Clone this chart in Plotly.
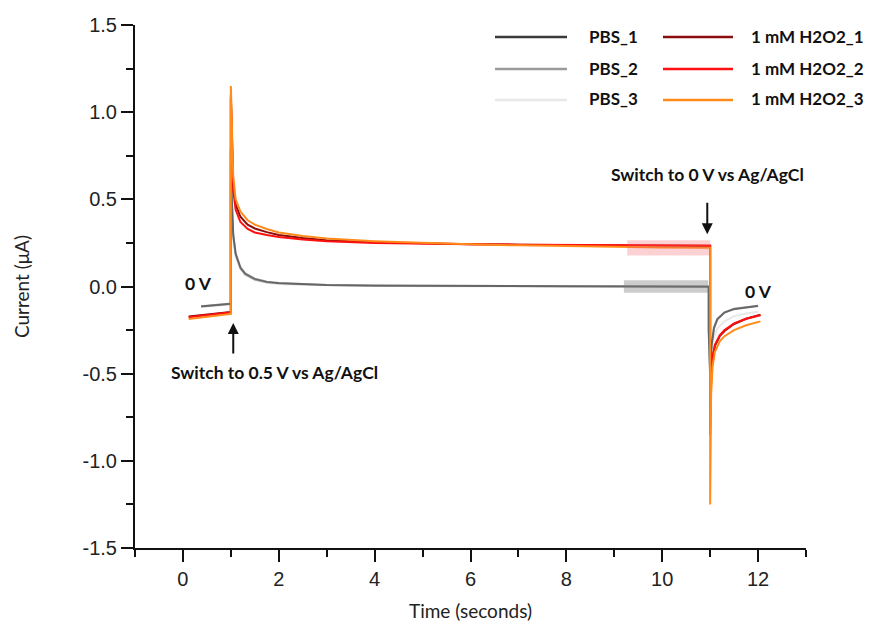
import plotly.graph_objects as go

# ---------------- data ----------------
series_names = ["PBS_1", "PBS_2", "PBS_3", "1 mM H2O2_1", "1 mM H2O2_2", "1 mM H2O2_3"]

t_pbs = [0.38, 0.6, 0.8, 1.0, 1.0, 1.02, 1.05, 1.1, 1.2, 1.3, 1.5, 1.75, 2.0, 2.5, 3.0, 4.0, 5.0,
         6.0, 7.0, 8.0, 9.0, 10.0, 10.97, 10.97, 11.0, 11.03, 11.08, 11.15, 11.3, 11.5, 11.75, 12.0]
pbs_1 = [-0.115, -0.11, -0.105, -0.10, 0.80, 0.50, 0.30, 0.19, 0.11, 0.075, 0.045, 0.028, 0.02, 0.013,
         0.009, 0.006, 0.004, 0.003, 0.002, 0.002, 0.001, 0.001, 0.0, -0.25, -0.52, -0.34, -0.24,
         -0.19, -0.15, -0.13, -0.12, -0.112]
pbs_2 = [-0.113, -0.108, -0.103, -0.098, 0.78, 0.49, 0.29, 0.185, 0.105, 0.07, 0.04, 0.025, 0.018,
         0.011, 0.008, 0.005, 0.003, 0.002, 0.001, 0.001, 0.0, 0.0, -0.002, -0.25, -0.50, -0.33,
         -0.235, -0.185, -0.148, -0.128, -0.118, -0.11]
pbs_3 = [-0.118, -0.113, -0.108, -0.103, 0.70, 0.45, 0.27, 0.17, 0.10, 0.065, 0.038, 0.022, 0.015,
         0.009, 0.006, 0.004, 0.002, 0.001, 0.0, 0.0, -0.001, -0.001, -0.003, -0.25, -0.45, -0.36,
         -0.29, -0.24, -0.2, -0.17, -0.155, -0.145]

t_h2o2 = [0.12, 0.3, 0.5, 0.7, 0.9, 1.0, 1.0, 1.02, 1.05, 1.1, 1.2, 1.35, 1.5, 1.75, 2.0, 2.5, 3.0,
          4.0, 5.0, 6.0, 7.0, 8.0, 9.0, 10.0, 11.0, 11.0, 11.02, 11.05, 11.1, 11.2, 11.3, 11.5, 11.75, 12.05]
h2o2_1 = [-0.172, -0.166, -0.16, -0.155, -0.149, -0.146, 1.10, 0.80, 0.58, 0.47, 0.40, 0.355, 0.333,
          0.312, 0.296, 0.278, 0.266, 0.254, 0.247, 0.243, 0.240, 0.238, 0.236, 0.234, 0.233, -0.85,
          -0.55, -0.42, -0.34, -0.285, -0.255, -0.215, -0.185, -0.162]
h2o2_2 = [-0.177, -0.171, -0.165, -0.16, -0.153, -0.148, 1.08, 0.78, 0.55, 0.44, 0.37, 0.33, 0.31,
          0.295, 0.284, 0.27, 0.26, 0.25, 0.245, 0.242, 0.24, 0.238, 0.237, 0.236, 0.235, -0.62,
          -0.50, -0.40, -0.335, -0.28, -0.25, -0.212, -0.185, -0.165]
h2o2_3 = [-0.186, -0.18, -0.174, -0.168, -0.161, -0.157, 1.15, 0.86, 0.63, 0.50, 0.43, 0.38, 0.355,
          0.33, 0.31, 0.29, 0.275, 0.26, 0.249, 0.242, 0.236, 0.231, 0.227, 0.224, 0.222, -1.25,
          -0.62, -0.46, -0.375, -0.315, -0.285, -0.25, -0.222, -0.20]

series_t = [t_pbs, t_pbs, t_pbs, t_h2o2, t_h2o2, t_h2o2]
series_y = [pbs_1, pbs_2, pbs_3, h2o2_1, h2o2_2, h2o2_3]
series_colors = ["#3a3a3a", "#9a9a9a", "#e8e8e8", "#8b0d0d", "#ff1010", "#ff8c1a"]
series_opacity = [0.55, 1.0, 1.0, 1.0, 1.0, 1.0]

# highlighted steady-state windows (time range, current range)
h2o2_window = [9.27, 11.0, 0.178, 0.265]
pbs_window = [9.2, 10.96, -0.036, 0.036]

x_ticks = [0, 2, 4, 6, 8, 10, 12]
y_ticks = [-1.5, -1.0, -0.5, 0.0, 0.5, 1.0, 1.5]
y_tick_labels = ["-1.5", "-1.0", "-0.5", "0.0", "0.5", "1.0", "1.5"]

# ---------------- figure ----------------
W, H = 869, 624
L, R, T, B = 135, 63, 25, 76

fig = go.Figure()

order = [2, 1, 0, 3, 4, 5]
for i in order:
    fig.add_trace(go.Scatter(x=series_t[i], y=series_y[i], mode="lines", name=series_names[i],
                             line=dict(color=series_colors[i], width=2), opacity=series_opacity[i],
                             showlegend=False, hoverinfo="skip"))

shapes = []
shapes.append(dict(type="rect", xref="x", yref="y", x0=h2o2_window[0], x1=h2o2_window[1],
                   y0=h2o2_window[2], y1=h2o2_window[3], fillcolor="rgba(240,90,100,0.28)",
                   line=dict(width=0), layer="above"))
shapes.append(dict(type="rect", xref="x", yref="y", x0=pbs_window[0], x1=pbs_window[1],
                   y0=pbs_window[2], y1=pbs_window[3], fillcolor="rgba(120,120,120,0.38)",
                   line=dict(width=0), layer="above"))


def px(xp):
    return (xp - L) / (W - L - R)


def py(yp):
    return (H - B - yp) / (H - T - B)


annotations = []
legend_font = dict(family="Lato, Carlito, sans-serif", size=17, color="#111111")
legend_rows = [37, 69, 100]
cols = [(495, 567, 587, [0, 1, 2]), (663, 733, 749, [3, 4, 5])]
for x0, x1, xt, idxs in cols:
    for r, i in zip(legend_rows, idxs):
        shapes.append(dict(type="line", xref="paper", yref="paper", x0=px(x0), x1=px(x1),
                           y0=py(r), y1=py(r), line=dict(color=series_colors[i], width=2.5)))
        annotations.append(dict(xref="paper", yref="paper", x=px(xt), y=py(r - 1),
                                text="<b>%s</b>" % series_names[i], showarrow=False,
                                xanchor="left", yanchor="middle", font=legend_font))

ann_font = dict(family="Lato, Carlito, sans-serif", size=17.5, color="#111111")
annotations += [
    dict(x=0.33, y=0.02, xref="x", yref="y", text="<b>0 V</b>", showarrow=False, font=ann_font),
    dict(x=12.0, y=-0.03, xref="x", yref="y", text="<b>0 V</b>", showarrow=False, font=ann_font),
    dict(x=1.92, y=-0.495, xref="x", yref="y", text="<b>Switch to 0.5 V vs Ag/AgCl</b>",
         showarrow=False, font=ann_font),
    dict(x=10.94, y=0.64, xref="x", yref="y", text="<b>Switch to 0 V vs Ag/AgCl</b>",
         showarrow=False, font=ann_font),
    dict(x=1.05, y=-0.21, xref="x", yref="y", text="", showarrow=True, ax=0, ay=32,
         arrowhead=2, arrowsize=1.1, arrowwidth=2, arrowcolor="#111111"),
    dict(x=10.94, y=0.30, xref="x", yref="y", text="", showarrow=True, ax=0, ay=-33,
         arrowhead=2, arrowsize=1.1, arrowwidth=2, arrowcolor="#111111"),
]

tick_font = dict(family="Liberation Sans, Arial, sans-serif", size=20, color="#222222")
title_font = dict(family="Lato, Carlito, sans-serif", size=19, color="#222222")

fig.update_layout(
    width=W, height=H,
    margin=dict(l=L, r=R, t=T, b=B, autoexpand=False),
    paper_bgcolor="white", plot_bgcolor="white",
    shapes=shapes, annotations=annotations,
    xaxis=dict(range=[-1, 13], tickmode="array", tickvals=x_ticks, ticktext=[str(v) for v in x_ticks],
               automargin=False,
               showline=True, linecolor="#111111", linewidth=2, mirror=False,
               ticks="outside", ticklen=12, tickwidth=2, tickcolor="#111111",
               minor=dict(tickmode="linear", tick0=-1, dtick=1, ticks="outside", ticklen=7,
                          tickwidth=2, tickcolor="#111111", showgrid=False),
               showgrid=False, zeroline=False, tickfont=tick_font,
               title=dict(text="Time (seconds)", font=title_font, standoff=16)),
    yaxis=dict(range=[-1.5, 1.5], tickmode="array", tickvals=y_ticks, ticktext=y_tick_labels,
               automargin=False,
               showline=True, linecolor="#111111", linewidth=2, mirror=False,
               ticks="outside", ticklen=12, tickwidth=2, tickcolor="#111111",
               minor=dict(tickmode="linear", tick0=-1.5, dtick=0.25, ticks="outside", ticklen=7,
                          tickwidth=2, tickcolor="#111111", showgrid=False),
               showgrid=False, zeroline=False, tickfont=tick_font,
               title=dict(text="Current (μA)", font=title_font, standoff=48)),
)

fig.write_html("out.html", config={"displayModeBar": False},
               post_script="document.body.style.margin='0';document.body.style.overflow='hidden';")
